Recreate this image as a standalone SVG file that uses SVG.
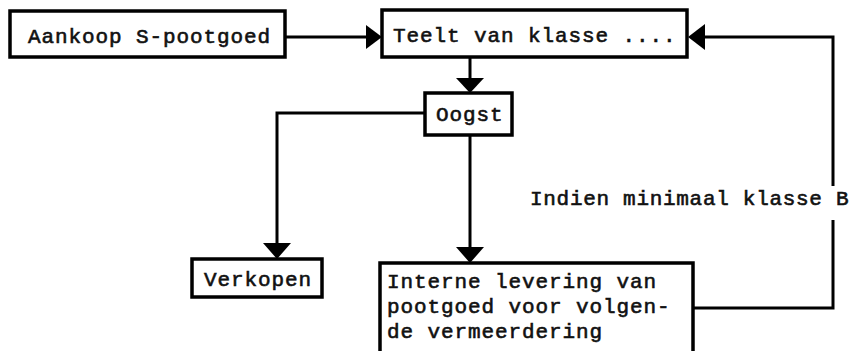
<svg xmlns="http://www.w3.org/2000/svg" width="859" height="351" viewBox="0 0 859 351">
  <style>
    .box { fill: #ffffff; stroke: #000000; stroke-width: 3.5; }
    .wire { fill: none; stroke: #000000; stroke-width: 3; }
    .head { fill: #000000; stroke: none; }
    text { font-family: "Liberation Mono", "DejaVu Sans Mono", monospace; font-size: 21px; fill: #111111; stroke: #111111; stroke-width: 0.6px; letter-spacing: 0.9px; }
  </style>
  <rect width="859" height="351" fill="#ffffff"/>

  <!-- connectors -->
  <g id="connectors">
    <!-- purchase to cultivation -->
    <line class="wire" x1="285" y1="37" x2="368" y2="37"/>
    <polygon class="head" points="382,37 366,25 366,49"/>
    <!-- cultivation to harvest -->
    <line class="wire" x1="470" y1="57" x2="470" y2="80"/>
    <polygon class="head" points="470,93 456,78 484,78"/>
    <!-- harvest to selling -->
    <polyline class="wire" points="425,113 277,113 277,245"/>
    <polygon class="head" points="277,259 263,243 291,243"/>
    <!-- harvest to internal delivery -->
    <line class="wire" x1="470" y1="135" x2="470" y2="249"/>
    <polygon class="head" points="470,263 456,247 484,247"/>
    <!-- feedback loop back to cultivation -->
    <polyline class="wire" points="693,308 833,308 833,220"/>
    <polyline class="wire" points="833,186 833,37 703,37"/>
    <polygon class="head" points="688,37 705,24 705,50"/>
  </g>

  <g id="aankoop">
    <rect class="box" x="10" y="11" width="275" height="46"/>
    <text x="28" y="43">Aankoop S-pootgoed</text>
  </g>

  <g id="teelt">
    <rect class="box" x="382" y="10" width="305" height="47"/>
    <text x="393" y="42">Teelt van klasse ....</text>
  </g>

  <g id="oogst">
    <rect class="box" x="425" y="93" width="87" height="42"/>
    <text x="436" y="121">Oogst</text>
  </g>

  <g id="verkopen">
    <rect class="box" x="192" y="259" width="130" height="38"/>
    <text x="204" y="286">Verkopen</text>
  </g>

  <g id="interne-levering">
    <path class="box" d="M380,353 L380,263 L693,263 L693,353"/>
    <text x="387" y="288">Interne levering van</text>
    <text x="387" y="313">pootgoed voor volgen-</text>
    <text x="387" y="338">de vermeerdering</text>
  </g>

  <g id="voorwaarde">
    <text x="530" y="205" style="letter-spacing:0.7px">Indien minimaal klasse B</text>
  </g>
</svg>
